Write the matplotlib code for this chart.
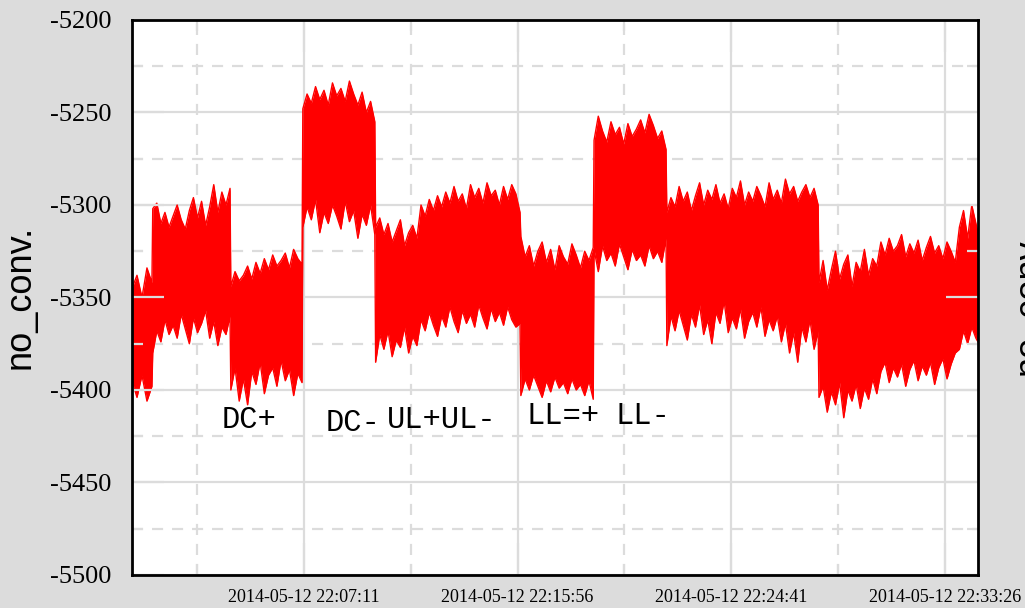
import matplotlib
matplotlib.use("Agg")
import matplotlib.pyplot as plt
import matplotlib.dates as mdates
from matplotlib.ticker import MultipleLocator, FixedLocator
import numpy as np
from datetime import datetime, timedelta

plt.rcParams["axes.unicode_minus"] = False

start = datetime(2014, 5, 12, 22, 0, 8)
span_s = 2080

# plateaus: (first, last) second after start
seg_bounds = [(0, 49), (51, 241), (243, 418), (420, 597), (599, 954),
              (956, 1134), (1136, 1313), (1315, 1687), (1689, 2085)]

# upper / lower envelope of the noisy signal in each plateau
seg_hi = [
    [-5345, -5338, -5350, -5334, -5342],
    [-5302, -5299, -5310, -5304, -5312, -5306, -5300, -5308, -5313, -5303,
     -5296, -5307, -5298, -5311, -5301, -5289, -5304, -5293, -5300, -5291],
    [-5344, -5336, -5341, -5338, -5333, -5340, -5331, -5337, -5329, -5335,
     -5327, -5333, -5330, -5326, -5334, -5324, -5329, -5332],
    [-5248, -5240, -5245, -5236, -5243, -5238, -5246, -5234, -5241, -5237,
     -5244, -5233, -5240, -5246, -5239, -5250, -5244, -5255],
    [-5312, -5307, -5316, -5310, -5320, -5314, -5308, -5322, -5315, -5311, -5318,
     -5300, -5306, -5297, -5303, -5295, -5301, -5293, -5299, -5290, -5298,
     -5294, -5302, -5289, -5296, -5291, -5299, -5288, -5295, -5292, -5300,
     -5290, -5297, -5289, -5294, -5304],
    [-5317, -5328, -5322, -5333, -5325, -5320, -5331, -5324, -5335, -5322,
     -5328, -5332, -5321, -5327, -5334, -5325, -5330, -5323],
    [-5265, -5252, -5260, -5266, -5255, -5262, -5258, -5267, -5256, -5263,
     -5259, -5254, -5261, -5251, -5257, -5264, -5260, -5270],
    [-5304, -5296, -5301, -5290, -5298, -5293, -5303, -5295, -5288, -5300,
     -5292, -5297, -5289, -5299, -5294, -5302, -5291, -5296, -5287, -5300,
     -5293, -5298, -5290, -5295, -5301, -5288, -5297, -5292, -5299, -5286,
     -5294, -5290, -5298, -5293, -5289, -5296, -5291, -5300],
    [-5342, -5330, -5346, -5335, -5325, -5340, -5332, -5327, -5344, -5331,
     -5336, -5324, -5338, -5329, -5333,
     -5320, -5327, -5318, -5325, -5322, -5316, -5328, -5321, -5326, -5319,
     -5330, -5323, -5317, -5326, -5322, -5329, -5320, -5325, -5331,
     -5312, -5303, -5318, -5300, -5310, -5320],
]
seg_lo = [
    [-5395, -5404, -5392, -5406, -5398],
    [-5380, -5368, -5374, -5362, -5370, -5365, -5372, -5359, -5367, -5375,
     -5361, -5369, -5364, -5357, -5372, -5363, -5376, -5366, -5370, -5360],
    [-5400, -5388, -5406, -5394, -5408, -5390, -5397, -5385, -5402, -5392,
     -5388, -5398, -5384, -5395, -5389, -5403, -5391, -5396],
    [-5312, -5301, -5308, -5297, -5315, -5304, -5310, -5300, -5306, -5313,
     -5298, -5309, -5303, -5318, -5305, -5311, -5300, -5316],
    [-5385, -5370, -5378, -5368, -5382, -5373, -5377, -5366, -5380, -5371, -5376,
     -5362, -5368, -5358, -5365, -5371, -5360, -5366, -5355, -5363, -5369,
     -5357, -5364, -5359, -5366, -5354, -5361, -5367, -5356, -5363, -5358,
     -5365, -5355, -5362, -5366, -5364],
    [-5403, -5394, -5400, -5392, -5398, -5404, -5395, -5401, -5393, -5399,
     -5396, -5402, -5394, -5400, -5397, -5403, -5395, -5405],
    [-5324, -5336, -5322, -5330, -5326, -5333, -5321, -5328, -5335, -5324,
     -5330, -5327, -5333, -5322, -5329, -5325, -5331, -5318],
    [-5376, -5360, -5368, -5357, -5365, -5373, -5359, -5366, -5354, -5370,
     -5362, -5375, -5358, -5364, -5352, -5369, -5361, -5367, -5356, -5372,
     -5363, -5358, -5366, -5355, -5371, -5362, -5368, -5360, -5374, -5364,
     -5380, -5369, -5385, -5366, -5374, -5362, -5378, -5368],
    [-5404, -5398, -5412, -5401, -5408, -5396, -5415, -5400, -5406, -5397,
     -5410, -5399, -5405, -5394, -5402,
     -5390, -5385, -5396, -5388, -5393, -5386, -5398, -5389, -5384, -5395,
     -5387, -5392, -5385, -5397, -5388, -5383, -5394, -5386, -5380,
     -5378, -5368, -5375, -5366, -5372, -5376],
]

major_ticks = ["2014-05-12 22:07:11", "2014-05-12 22:15:56",
               "2014-05-12 22:24:41", "2014-05-12 22:33:26"]
minor_ticks = ["2014-05-12 22:02:48", "2014-05-12 22:11:33",
               "2014-05-12 22:20:18", "2014-05-12 22:29:03"]

ann_labels = ["DC+", "DC-", "UL+UL-", "LL=+", "LL-"]
ann_secs = [221, 475, 627, 971, 1188]
ann_vals = [-5416, -5418, -5416, -5414, -5414]

t, hi, lo = [], [], []
for (a, b), h, l in zip(seg_bounds, seg_hi, seg_lo):
    for s in np.linspace(a, b, len(h)):
        t.append(start + timedelta(seconds=float(s)))
    hi += h
    lo += l

fmt = "%Y-%m-%d %H:%M:%S"
maj = mdates.date2num([datetime.strptime(s, fmt) for s in major_ticks])
mnr = mdates.date2num([datetime.strptime(s, fmt) for s in minor_ticks])

grey = "#dcdcdc"
rect = [132 / 1025, 1 - 575 / 608, 846 / 1025, 555 / 608]

fig = plt.figure(figsize=(10.25, 6.08), dpi=100, facecolor=grey)
ax = fig.add_axes(rect)
ax.fill_between(t, lo, hi, color="red", lw=0, zorder=3)
ax.plot(t, hi, color="red", lw=1.0, zorder=3)
ax.plot(t, lo, color="red", lw=1.0, zorder=3)

ax.set_xlim(start, start + timedelta(seconds=span_s))
ax.set_ylim(-5500, -5200)
ax.yaxis.set_major_locator(MultipleLocator(50))
ax.yaxis.set_minor_locator(MultipleLocator(25))
ax.xaxis.set_major_locator(FixedLocator(maj))
ax.xaxis.set_minor_locator(FixedLocator(mnr))
ax.xaxis.set_major_formatter(mdates.DateFormatter(fmt))
ax.grid(which="major", color=grey, lw=1.6, ls="-")
ax.grid(which="minor", color=grey, lw=1.6, ls=(0, (5, 4)))
ax.set_axisbelow(True)
ax.tick_params(which="both", length=0)
ax.tick_params(axis="y", pad=15, labelsize=19)
ax.tick_params(axis="x", pad=10, labelsize=13)
for lab in ax.get_xticklabels() + ax.get_yticklabels():
    lab.set_family("Liberation Serif")
for s in ax.spines.values():
    s.set_visible(False)

for lab, s, v in zip(ann_labels, ann_secs, ann_vals):
    ax.text(start + timedelta(seconds=s), v, lab, family="Liberation Mono",
            fontsize=22, va="center", ha="left", zorder=4)

# overlay for the grey inward ticks and black frame, drawn above the data
ax2 = fig.add_axes(rect, sharex=ax, sharey=ax)
ax2.patch.set_visible(False)
ax2.tick_params(which="both", direction="in", color=grey, width=1.6,
                left=True, right=True, top=True, bottom=True,
                labelleft=False, labelbottom=False)
ax2.tick_params(which="major", length=23)
ax2.tick_params(which="minor", length=8)
for s in ax2.spines.values():
    s.set_linewidth(2)
    s.set_color("black")

fig.text(20 / 1025, 1 - 297 / 608, "no_conv.", rotation=90, family="Liberation Sans",
         fontsize=26, ha="center", va="center")
fig.text(1029 / 1025, 1 - 303 / 608, "no_conv.", rotation=90, family="Liberation Sans",
         fontsize=26, ha="center", va="center")

fig.savefig("out.png", dpi=100, facecolor=grey)
